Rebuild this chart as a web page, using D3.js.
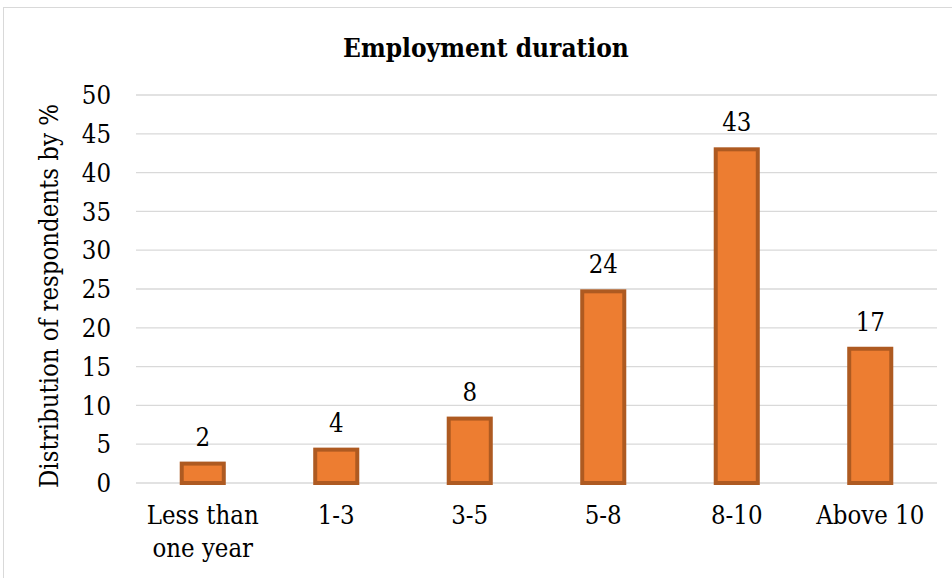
<!DOCTYPE html>
<html>
<head>
<meta charset="utf-8">
<script src="https://cdn.jsdelivr.net/npm/d3@7"></script>
<style>
  body { margin: 0; background: #fff; }
  svg { display: block; }
  text { font-family: "DejaVu Serif Condensed", "DejaVu Serif", serif; font-stretch: condensed; }
</style>
</head>
<body>
<svg id="chart" width="952" height="578"></svg>
<script>
// Chart data
const categories = ['Less than one year', '1-3', '3-5', '5-8', '8-10', 'Above 10'];
const values = [2.5, 4.3, 8.3, 24.7, 43, 17.3];
const valueLabels = ['2', '4', '8', '24', '43', '17'];
const yTicks = [0, 5, 10, 15, 20, 25, 30, 35, 40, 45, 50];

const width = 952;
const height = 578;
const plot = { left: 136, right: 937, top: 95, bottom: 483 };
const fontSize = 25.5;

const svg = d3.select('#chart');

// outer chart border
svg.append('rect')
  .attr('x', 3.5)
  .attr('y', 7.5)
  .attr('width', width + 10)
  .attr('height', height + 10)
  .attr('fill', 'none')
  .attr('stroke', '#d9d9d9')
  .attr('stroke-width', 1);

const x = d3.scaleBand()
  .domain(categories)
  .range([plot.left, plot.right])
  .paddingInner(0.685)
  .paddingOuter(0.3425);

const y = d3.scaleLinear()
  .domain([0, 50])
  .range([plot.bottom, plot.top]);

// gridlines
svg.append('g')
  .selectAll('line')
  .data(yTicks)
  .enter()
  .append('line')
  .attr('x1', plot.left)
  .attr('x2', plot.right)
  .attr('y1', (d) => y(d))
  .attr('y2', (d) => y(d))
  .attr('stroke', '#d9d9d9')
  .attr('stroke-width', 1.3);

// y tick labels
svg.append('g')
  .selectAll('text')
  .data(yTicks)
  .enter()
  .append('text')
  .attr('x', 111)
  .attr('y', (d) => y(d))
  .attr('dy', '0.36em')
  .attr('text-anchor', 'end')
  .attr('font-size', fontSize + 'px')
  .attr('fill', '#000')
  .text((d) => d);

// bars
svg.append('g')
  .selectAll('rect')
  .data(values)
  .enter()
  .append('rect')
  .attr('x', (d, i) => x(categories[i]))
  .attr('y', (d) => y(d))
  .attr('width', x.bandwidth())
  .attr('height', (d) => y(0) - y(d))
  .attr('fill', '#ed7d31')
  .attr('stroke', '#ae5a21')
  .attr('stroke-width', 4);

// value labels
svg.append('g')
  .selectAll('text')
  .data(values)
  .enter()
  .append('text')
  .attr('x', (d, i) => x(categories[i]) + x.bandwidth() / 2)
  .attr('y', (d) => y(d) - 18)
  .attr('text-anchor', 'middle')
  .attr('font-size', fontSize + 'px')
  .attr('fill', '#000')
  .text((d, i) => valueLabels[i]);

// x category labels (first one wraps onto two lines)
const xLabels = svg.append('g')
  .selectAll('text')
  .data(categories)
  .enter()
  .append('text')
  .attr('x', (d) => x(d) + x.bandwidth() / 2)
  .attr('y', 523.5)
  .attr('text-anchor', 'middle')
  .attr('font-size', fontSize + 'px')
  .attr('fill', '#000');

xLabels.each(function (d) {
  const t = d3.select(this);
  const lines = d === 'Less than one year' ? ['Less than', 'one year'] : [d];
  lines.forEach((line, k) => {
    t.append('tspan')
      .attr('x', t.attr('x'))
      .attr('dy', k === 0 ? 0 : 33)
      .text(line);
  });
});

// title
svg.append('text')
  .attr('x', 486)
  .attr('y', 56.5)
  .attr('text-anchor', 'middle')
  .attr('font-size', '26px')
  .attr('font-weight', 'bold')
  .attr('fill', '#000')
  .text('Employment duration');

// y axis title
svg.append('text')
  .attr('transform', 'translate(58,296) rotate(-90)')
  .attr('text-anchor', 'middle')
  .attr('font-size', fontSize + 'px')
  .attr('fill', '#000')
  .text('Distribution of respondents by %');
</script>
</body>
</html>
